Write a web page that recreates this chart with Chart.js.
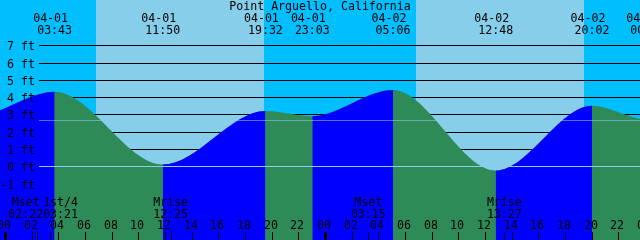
<!DOCTYPE html>
<html>
<head>
<meta charset="utf-8">
<script src="https://cdn.jsdelivr.net/npm/chart.js@4.4.0/dist/chart.umd.min.js"></script>
<style>
  body { margin: 0; background: #00BFFF; }
  canvas { display: block; }
</style>
</head>
<body>
<canvas id="tideChart" width="640" height="240"></canvas>
<script>
// hours are counted from 04-01 00:00
const tideHours = [-5.5, -2.3, 3.72, 11.83, 19.53, 23.05, 29.1, 36.8, 44.03, 48.2, 54.3];
const tideFeet  = [3.0, 2.9, 4.31, 0.1, 3.2, 2.9, 4.41, -0.25, 3.5, 2.7, 4.5];
const tideDates = ['', '', '04-01', '04-01', '04-01', '04-01', '04-02', '04-02', '04-02', '04-03', ''];
const tideClock = ['', '', '03:43', '11:50', '19:32', '23:03', '05:06', '12:48', '20:02', '00:12', ''];

const sunrise = [6.83, 30.83];
const sunset  = [19.43, 43.43];

const moonHours = [2.37, 3.35, 12.42, 27.25, 37.45];
const moonNames = ['Mset', '1st/4', 'Mrise', 'Mset', 'Mrise'];
const moonClock = ['02:22', '03:21', '12:25', '03:15', '13:27'];

const footTicks = [7, 6, 5, 4, 3, 2, 1, 0, -1];
const hourTicks = [0, 2, 4, 6, 8, 10, 12, 14, 16, 18, 20, 22, 24, 26, 28, 30, 32, 34, 36, 38, 40, 42, 44, 46, 48];
const meanLevel = 2.66;
const title = 'Point Arguello, California';

const FONT = '11.6px "DejaVu Sans Mono", "Liberation Mono", monospace';

const points = tideHours.map((h, i) => ({ x: h, y: tideFeet[i] }));

const tideDecor = {
  id: 'tideDecor',
  beforeDatasetsDraw(chart) {
    const { ctx, chartArea: a, scales: { x, y } } = chart;
    ctx.save();
    // night sky, then daylight bands
    ctx.fillStyle = '#00BFFF';
    ctx.fillRect(a.left, a.top, a.width, a.height);
    ctx.fillStyle = '#87CEEB';
    for (let i = 0; i < sunrise.length; i++) {
      const x0 = Math.round(x.getPixelForValue(sunrise[i]));
      const x1 = Math.round(x.getPixelForValue(sunset[i]));
      ctx.fillRect(x0, a.top, x1 - x0, a.height);
    }
    // depth lines, hidden by water later
    ctx.fillStyle = '#000';
    footTicks.forEach(f => {
      const py = Math.round(y.getPixelForValue(f));
      ctx.fillRect(39, py, a.right - 39, 1);
    });
    ctx.restore();
  },
  afterDatasetsDraw(chart) {
    const { ctx, chartArea: a, scales: { x, y } } = chart;
    ctx.save();

    // datum and mean level lines over the water
    ctx.fillStyle = '#87CEEB';
    ctx.fillRect(39, Math.round(y.getPixelForValue(0)), a.right - 39, 1);
    ctx.fillStyle = 'rgba(135,206,235,0.55)';
    ctx.fillRect(39, Math.round(y.getPixelForValue(meanLevel)), a.right - 39, 1);

    ctx.font = FONT;
    ctx.fillStyle = '#000';
    ctx.textBaseline = 'alphabetic';

    // foot labels
    ctx.textAlign = 'right';
    footTicks.forEach(f => {
      const py = Math.round(y.getPixelForValue(f));
      ctx.fillText(f + ' ft', 35, py + 5);
    });

    // title
    ctx.textAlign = 'center';
    ctx.fillText(title, 320, 10);

    // high / low tide labels
    tideHours.forEach((h, i) => {
      if (!tideClock[i]) return;
      const px = x.getPixelForValue(h);
      ctx.fillText(tideDates[i], px - 4, 22);
      ctx.fillText(tideClock[i], px, 34);
    });

    // moon labels, pushed apart when they collide
    const cx = moonHours.map(h => x.getPixelForValue(h));
    const w = moonNames.map((n, i) => Math.max(ctx.measureText(n).width, ctx.measureText(moonClock[i]).width));
    for (let i = 1; i < cx.length; i++) {
      const overlap = (cx[i - 1] + w[i - 1] / 2) - (cx[i] - w[i] / 2);
      if (overlap > 0) {
        cx[i - 1] -= overlap / 2;
        cx[i] += overlap / 2;
      }
    }
    moonNames.forEach((n, i) => {
      ctx.fillText(n, cx[i], 206);
      ctx.fillText(moonClock[i], cx[i], 218);
    });

    // hour labels and ticks
    hourTicks.forEach(h => {
      const px = Math.round(x.getPixelForValue(h));
      ctx.fillText(String(h % 24).padStart(2, '0'), px - 1, 229);
      if (h % 24 === 0) ctx.fillRect(px - 1, 232, 3, 8);
      else ctx.fillRect(px, 232, 1, 8);
    });
    moonHours.forEach(h => {
      const px = Math.round(x.getPixelForValue(h));
      ctx.fillRect(px, 232, 1, 8);
    });

    ctx.restore();
  }
};

new Chart(document.getElementById('tideChart'), {
  type: 'line',
  data: {
    datasets: [{
      // rising water
      data: points.map(p => ({ ...p })),
      fill: 'start',
      backgroundColor: 'rgba(0,0,0,0)',
      segment: {
        backgroundColor: c => c.p1.parsed.y > c.p0.parsed.y ? '#0000FF' : 'rgba(0,0,0,0)'
      }
    }, {
      // falling water (underneath)
      data: points.map(p => ({ ...p })),
      fill: 'start',
      backgroundColor: '#2E8B57'
    }]
  },
  options: {
    responsive: false,
    animation: false,
    devicePixelRatio: 1,
    layout: { padding: 0 },
    elements: {
      point: { radius: 0 },
      line: { borderWidth: 0, borderColor: 'rgba(0,0,0,0)', cubicInterpolationMode: 'monotone' }
    },
    scales: {
      x: { type: 'linear', display: false, min: -0.375, max: 47.625 },
      y: { display: false, min: -4.263, max: 9.618 }
    },
    plugins: {
      legend: { display: false },
      tooltip: { enabled: false }
    }
  },
  plugins: [tideDecor]
});
</script>
</body>
</html>
